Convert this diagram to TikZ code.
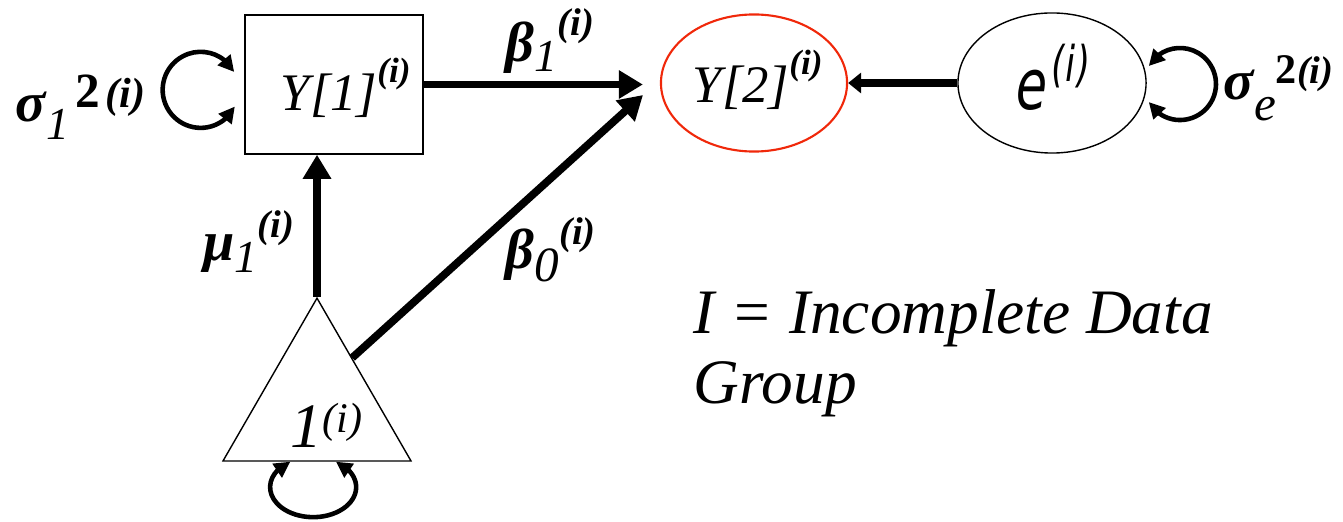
\documentclass[tikz,border=0pt]{standalone}
\usepackage{fontspec}
\setmainfont{Liberation Serif}
\newfontfamily\efont[FakeSlant=0.2]{DejaVu Sans}
\usepackage{graphicx}
\usetikzlibrary{arrows.meta}
\usetikzlibrary{bending}
\usetikzlibrary{calc, positioning}
\usetikzlibrary{shapes.geometric}

\definecolor{ellred}{RGB}{240,40,10}
\newcommand{\lowr}[3]{\raisebox{-#1}{\fontsize{#2}{#2}\selectfont\mdseries\itshape #3}}
\newcommand{\highr}[3]{\raisebox{#1}{\fontsize{#2}{#2}\selectfont\bfseries\itshape #3}}
\newcommand{\grk}[1]{{\fontsize{16}{16}\selectfont\bfseries\itshape #1}}

\begin{document}
\begin{tikzpicture}[x=0.01cm,y=0.01cm,
  effect/.style={line width=2.2pt,-{Triangle[length=0.24cm,width=0.27cm]}},
  varloop/.style={line width=1.3pt,{Triangle[length=0.16cm,width=0.16cm]}-{Triangle[length=0.16cm,width=0.16cm]}},
  lab/.style={anchor=base west,inner sep=0pt}]
\useasboundingbox (0,0) rectangle (1343,521);
\node[draw,minimum width=1.78cm,minimum height=1.39cm,inner sep=0pt] (Y1) at (334,436.5) {};
\node[draw=ellred,line width=0.6pt,ellipse,minimum width=1.86cm,minimum height=1.37cm,inner sep=0pt] (Y2) at (754,438) {};
\node[draw,ellipse,minimum width=1.88cm,minimum height=1.40cm,inner sep=0pt] (e) at (1052,438) {};
\node[draw,regular polygon,regular polygon sides=3,minimum size=2.17cm,inner sep=0pt] (one) at (317,114.3) {};

\node[lab] (Y1text) at (280,410) {{\fontsize{15}{15}\selectfont\itshape Y[1]}\highr{8pt}{10}{(i)}};
\node[lab] (Y2text) at (692,418) {{\fontsize{15}{15}\selectfont\itshape Y[2]}\highr{8pt}{10}{(i)}};
\node[lab] (etext) at (1013,411) {\scalebox{0.72}[1]{\efont\fontsize{20}{20}\selectfont e\hspace{2pt}\raisebox{8pt}{\fontsize{14}{14}\selectfont (i)}}};
\node[lab] (onetext) at (290,74) {{\fontsize{18}{18}\selectfont\itshape 1}\raisebox{4pt}{\fontsize{12}{12}\selectfont\itshape (i)}};

\draw[effect] (one.corner 1) -- (one.corner 1 |- Y1.south);
\draw[effect,shorten >=0.17cm] (Y1.east) -- (Y1.east -| Y2.west);
\coordinate (b0end) at (643,426);
\draw[effect] ($(one.corner 1)!0.37!(one.corner 3)$) -- (b0end);
\draw[line width=2.2pt,-{Triangle[length=0.13cm,width=0.2cm]}] (e.west) -- (Y2.east);

\draw[varloop] ($(Y1.west)+(-10,12.5)$) arc[start angle=28,end angle=334,radius=0.38cm];
\draw[varloop] ($(one.corner 2)!0.36!(one.corner 3)$) arc[start angle=122,end angle=418,x radius=0.43cm,y radius=0.30cm];
\draw[varloop] ($(e.east)+(2,17)$) arc[start angle=150,end angle=-150,radius=0.36cm];

\node[lab] (s1lab) at (15,399) {\grk{σ}\lowr{5pt}{13}{1}\hspace{2pt}\raisebox{4pt}{\fontsize{14}{14}\selectfont\bfseries 2}\hspace{1.5pt}\highr{4pt}{12}{(i)}};
\node[lab] (b1lab) at (505,459) {\grk{β}\lowr{2.8pt}{13}{1}\highr{7.4pt}{11}{(i)}};
\node[lab] (b0lab) at (505,252) {\grk{β}\lowr{3.5pt}{14}{0}\highr{7pt}{11}{(i)}};
\node[lab] (m1lab) at (203,261) {\grk{μ}\lowr{3.5pt}{13}{1}\highr{6.5pt}{11}{(i)}};
\node[lab] (selab) at (1223,421) {\grk{σ}\lowr{5.7pt}{14}{e}\raisebox{4.8pt}{\fontsize{12}{12}\selectfont\bfseries 2}\highr{4.8pt}{11}{(i)}};

\node[lab,align=left,font=\fontsize{18}{19.8}\selectfont\itshape] (legend) at (693,118) {I = Incomplete Data\\Group};
\end{tikzpicture}
\end{document}
